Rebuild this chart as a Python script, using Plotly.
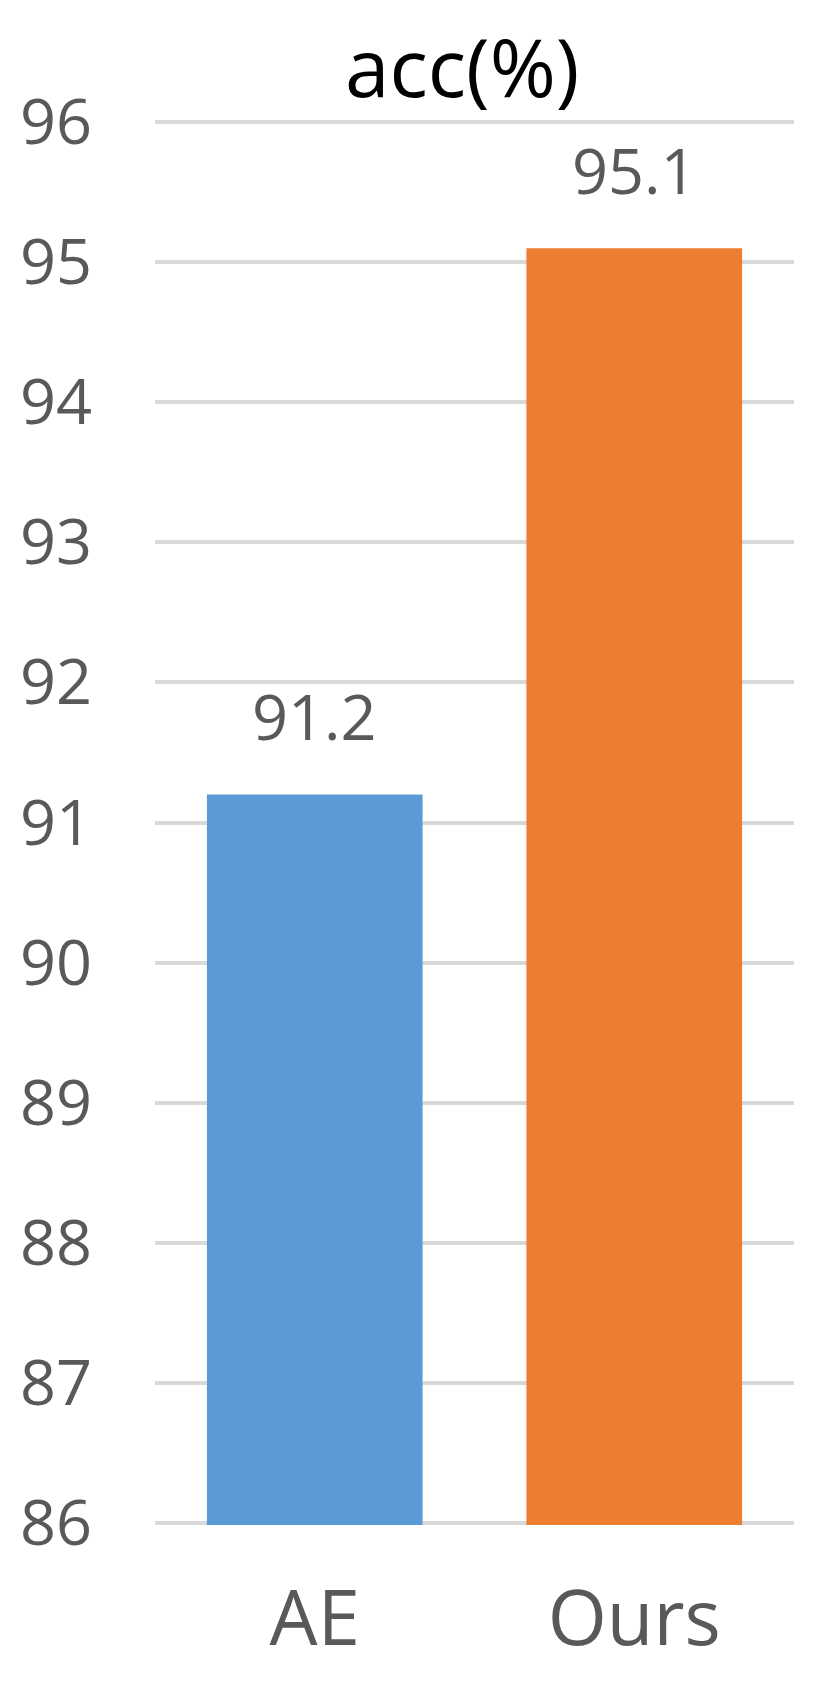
import plotly.graph_objects as go

categories = ["AE", "Ours"]
values = [91.2, 95.1]
bar_colors = ["#5B9BD5", "#ED7D31"]
y_ticks = list(range(86, 97))
title_text = "acc(%)"

FONT = "Open Sans, Noto Sans, DejaVu Sans, sans-serif"

fig = go.Figure()
fig.add_trace(go.Bar(
    x=categories,
    y=values,
    marker=dict(color=bar_colors, line=dict(width=0)),
    width=0.675,
    hoverinfo="skip",
))

for c, v in zip(categories, values):
    fig.add_annotation(
        x=c, y=v, text=f"{v:.1f}", showarrow=False,
        yanchor="middle", yshift=79,
        font=dict(family=FONT, size=63, color="#595959"),
    )

fig.add_annotation(
    x=0.48, y=1, xref="paper", yref="paper", text=title_text,
    showarrow=False, yanchor="middle", yshift=55,
    font=dict(family=FONT, size=80, color="#000000"),
)

# page body has a default 8px margin, so the figure is offset by 8px
fig.update_layout(
    width=822, height=1686,
    margin=dict(l=147, r=36, t=112, b=169, pad=0),
    paper_bgcolor="white", plot_bgcolor="white",
    showlegend=False,
    bargap=0.325,
)
fig.update_yaxes(
    range=[85.985, 96.015], tickvals=y_ticks,
    showgrid=True, gridcolor="#D9D9D9", gridwidth=3.5,
    zeroline=False, showline=False, ticks="",
    tickfont=dict(family=FONT, size=63, color="#595959"),
    ticklabelstandoff=62, automargin=False,
)
fig.update_xaxes(
    showgrid=False, zeroline=False, showline=False, ticks="",
    tickfont=dict(family=FONT, size=76, color="#595959"),
    ticklabelstandoff=43, automargin=False,
)

fig.write_html("out.html")
